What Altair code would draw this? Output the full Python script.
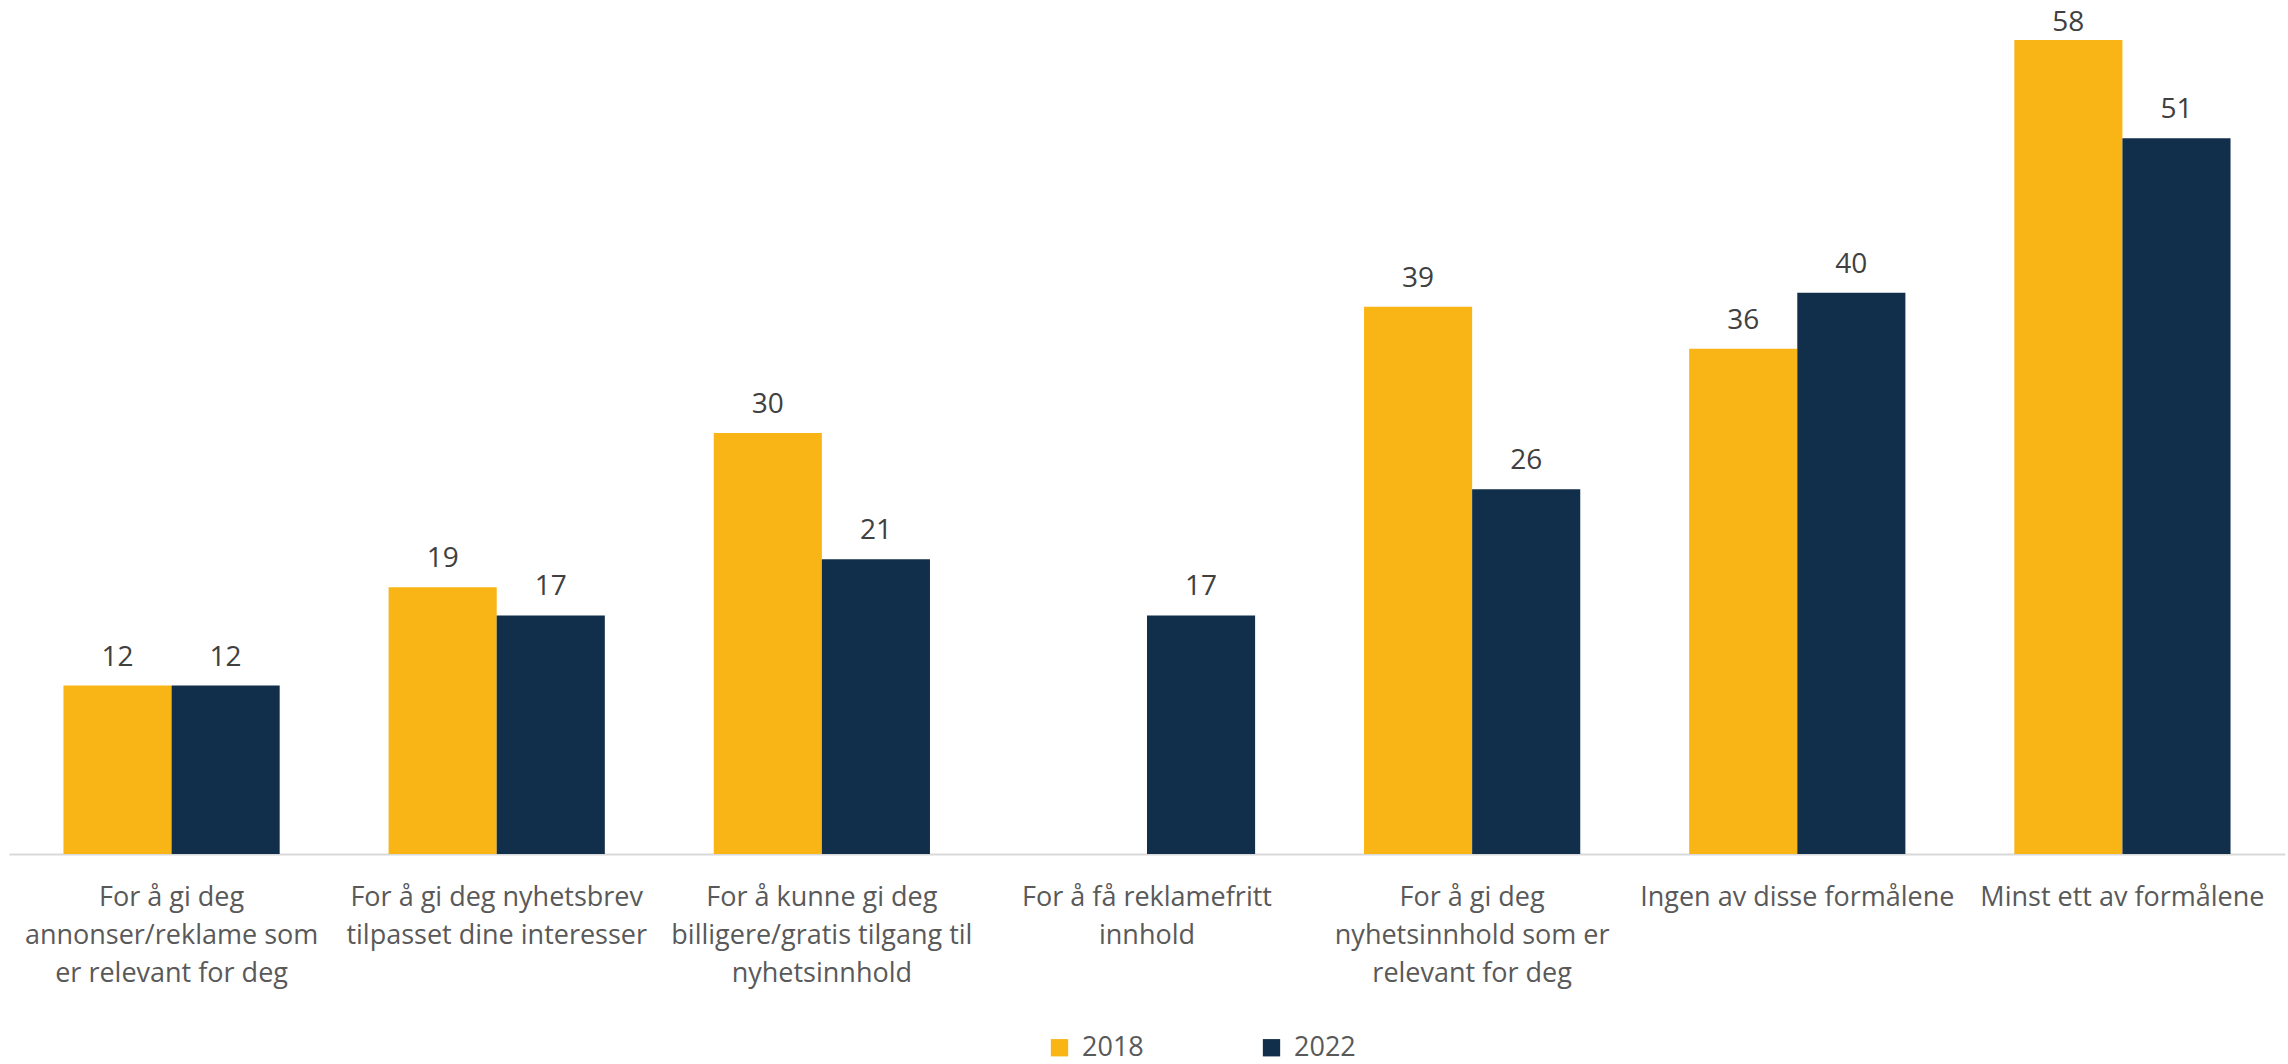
import altair as alt
import pandas as pd

categories = [
    "For å gi deg|annonser/reklame som|er relevant for deg",
    "For å gi deg nyhetsbrev|tilpasset dine interesser",
    "For å kunne gi deg|billigere/gratis tilgang til|nyhetsinnhold",
    "For å få reklamefritt|innhold",
    "For å gi deg|nyhetsinnhold som er|relevant for deg",
    "Ingen av disse formålene",
    "Minst ett av formålene",
]
years = ["2018", "2022"]
values_2018 = [12, 19, 30, None, 39, 36, 58]
values_2022 = [12, 17, 21, 17, 26, 40, 51]
colors = ["#F9B515", "#112E4A"]

rows = []
for cat, v18, v22 in zip(categories, values_2018, values_2022):
    if v18 is not None:
        rows.append({"cat": cat, "year": "2018", "value": v18})
    if v22 is not None:
        rows.append({"cat": cat, "year": "2022", "value": v22})
df = pd.DataFrame(rows)

FONT = "Open Sans"

base = alt.Chart(df).encode(
    x=alt.X(
        "cat:N",
        sort=categories,
        scale=alt.Scale(paddingInner=0.335, paddingOuter=0.1675),
        axis=alt.Axis(
            title=None,
            labelAngle=0,
            ticks=False,
            domainColor="#D9D9D9",
            domainWidth=2,
            labelFont=FONT,
            labelFontSize=27,
            labelLineHeight=38,
            labelColor="#595959",
            labelPadding=30,
            labelBaseline="top",
            labelLimit=0,
            labelExpr="split(datum.label, '|')",
        ),
    ),
    xOffset=alt.XOffset("year:N", sort=years),
)

bars = base.mark_bar().encode(
    y=alt.Y("value:Q", scale=alt.Scale(domain=[0, 60]), axis=None),
    color=alt.Color(
        "year:N",
        sort=years,
        scale=alt.Scale(domain=years, range=colors),
        legend=alt.Legend(
            title=None,
            orient="none",
            legendX=1037,
            legendY=1022,
            direction="horizontal",
            symbolType="square",
            symbolSize=300,
            symbolStrokeWidth=0,
            labelFont=FONT,
            labelFontSize=27,
            labelColor="#595959",
            labelOffset=9,
            columnPadding=114,
        ),
    ),
)

# Excel nudges the topmost label down so it stays inside the chart area
labels = (
    base.transform_calculate(label_pos="min(datum.value, 57.2)")
    .mark_text(baseline="bottom", dy=-14, fontSize=28, font=FONT, color="#404040")
    .encode(
        y=alt.Y("label_pos:Q", scale=alt.Scale(domain=[0, 60]), axis=None),
        text=alt.Text("value:Q"),
    )
)

chart = (
    alt.layer(bars, labels)
    .properties(
        width=2276,
        height=842,
        background="white",
        autosize=alt.AutoSizeParams(type="none"),
        padding={"left": 9, "top": 12, "right": 3, "bottom": 210},
    )
    .configure_view(stroke="transparent", strokeWidth=0)
)

chart.save("out.html", embed_options={"renderer": "svg", "actions": False})
